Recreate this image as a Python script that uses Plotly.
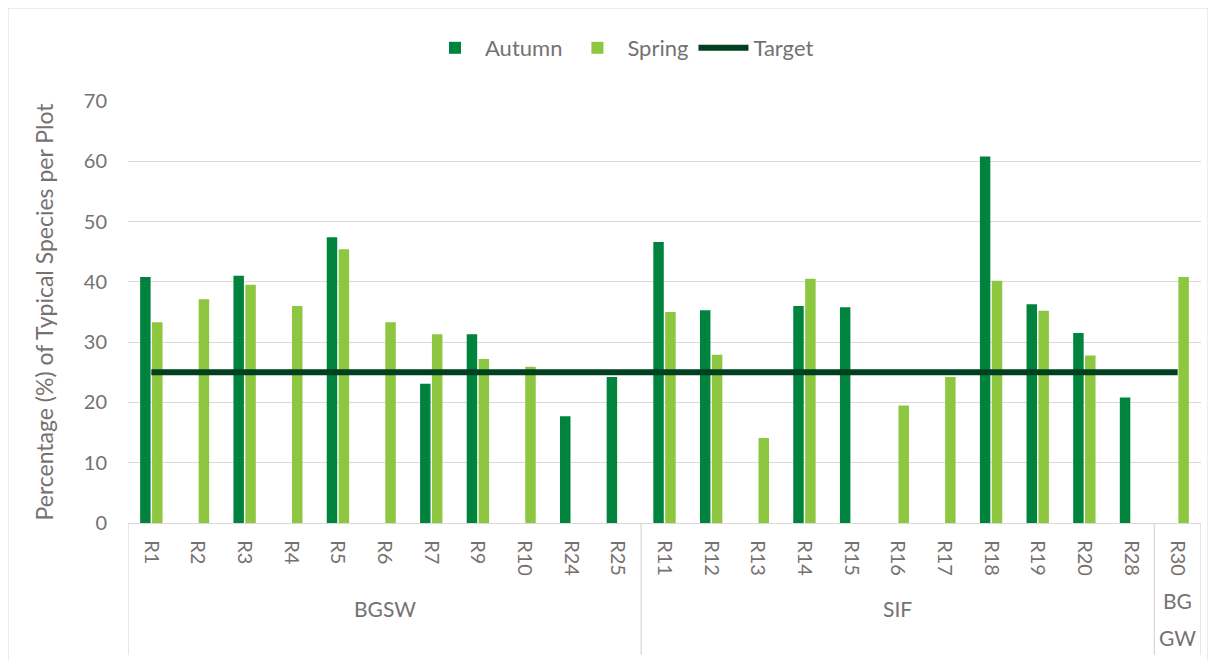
import plotly.graph_objects as go

categories = ["R1", "R2", "R3", "R4", "R5", "R6", "R7", "R9", "R10", "R24", "R25",
              "R11", "R12", "R13", "R14", "R15", "R16", "R17", "R18", "R19", "R20", "R28",
              "R30"]
groups = ["BGSW"] * 11 + ["SIF"] * 11 + ["BG<br>GW"]
autumn = [40.8, None, 41.0, None, 47.4, None, 23.1, 31.3, None, 17.7, 24.2,
          46.6, 35.3, None, 36.0, 35.8, None, None, 60.8, 36.3, 31.5, 20.8,
          None]
spring = [33.3, 37.1, 39.5, 36.0, 45.4, 33.3, 31.3, 27.2, 25.9, None, None,
          35.0, 27.9, 14.1, 40.5, None, 19.5, 24.2, 40.2, 35.2, 27.8, None,
          40.8]
target = [25] * len(categories)

TXT = "rgb(118,113,113)"
FONT = "Lato"

fig = go.Figure()
fig.add_trace(go.Bar(x=categories, y=autumn, name="Autumn", marker_color="#00843D",
                     marker_line_width=0))
fig.add_trace(go.Bar(x=categories, y=spring, name="Spring", marker_color="#8DC63F",
                     marker_line_width=0))
fig.add_trace(go.Scatter(x=categories, y=target, name="Target", mode="lines",
                         line=dict(color="#003F1F", width=6)))

# page has 8px body margin; plot area on screen: x 128..1201, y 101..523
ph = 422.0
pw = 1073.0
def py(pix):
    return (523 - pix) / ph
def px(pix):
    return (pix - 128) / pw

n = len(categories)
gnames = []
for g in groups:
    if g not in gnames:
        gnames.append(g)
bounds = [-0.5]
for g in gnames:
    idx = [i for i, v in enumerate(groups) if v == g]
    bounds.append(idx[-1] + 0.5)
for b in bounds:
    fig.add_shape(type="line", xref="x", yref="paper", x0=b, x1=b, y0=0, y1=py(655),
                  line=dict(color="#D9D9D9", width=1.3))

for g in gnames:
    idx = [i for i, v in enumerate(groups) if v == g]
    center = (idx[0] + idx[-1]) / 2
    lines = g.split("<br>")
    if len(lines) == 1:
        ys = [608]
    else:
        ys = [600, 637]
    for t, yy in zip(lines, ys):
        fig.add_annotation(x=center, y=py(yy), xref="x", yref="paper", text=t,
                           showarrow=False, yanchor="middle", xanchor="center",
                           font=dict(family=FONT, size=21, color=TXT))

# chart border
fig.add_shape(type="rect", xref="paper", yref="paper",
              x0=px(8), x1=px(1208), y0=py(700), y1=py(8),
              line=dict(color="#D9D9D9", width=1), layer="below")

fig.update_layout(
    width=1208, height=653,
    margin=dict(l=120, r=15, t=93, b=138, autoexpand=False),
    paper_bgcolor="white", plot_bgcolor="white",
    barmode="group", bargap=0.49, bargroupgap=0.12,
    font=dict(family=FONT, color=TXT, size=20),
    legend=dict(orientation="h", x=px(622), xanchor="center", y=py(48), yanchor="middle",
                font=dict(family=FONT, size=22, color=TXT), itemwidth=50,
                traceorder="normal"),
    showlegend=True,
)
fig.update_xaxes(type="category", tickangle=90, tickfont=dict(family=FONT, size=20, color=TXT),
                 showline=True, linecolor="#D9D9D9", linewidth=1.3, ticks="",
                 ticklabelstandoff=12,
                 showgrid=False, range=[-0.5, n - 0.5], automargin=False)
fig.update_yaxes(range=[0, 70], dtick=10, showgrid=True, gridcolor="#D9D9D9", gridwidth=1.3,
                 zeroline=False, showline=False, ticks="", automargin=False,
                 ticklabelstandoff=20,
                 tickfont=dict(family=FONT, size=20, color=TXT),
                 title=dict(text="Percentage (%) of Typical Species per Plot",
                            font=dict(family=FONT, size=23, color=TXT), standoff=23))

fig.write_html("out.html")
